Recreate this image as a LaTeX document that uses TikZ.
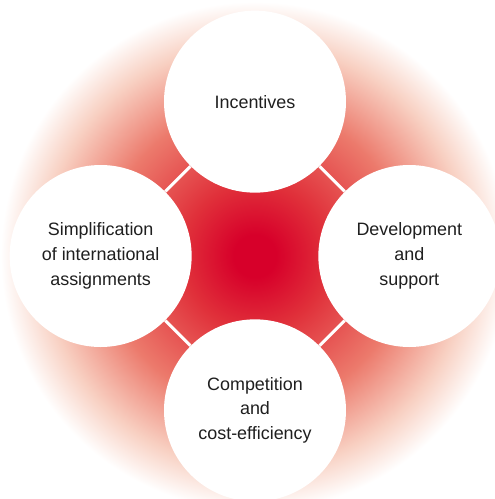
\documentclass[tikz,border=0pt]{standalone}
\usepackage{fontspec}
\setmainfont{Liberation Sans}
\usepackage{xcolor}
\usetikzlibrary{positioning}

\definecolor{glowcore}{HTML}{D7002A}
\definecolor{glowmid}{HTML}{E0303A}
\definecolor{glowfade}{HTML}{EC7A6C}
\definecolor{glowpale}{HTML}{F8D0C2}
\definecolor{labeltext}{HTML}{1F1F1F}

\pgfdeclareradialshading{redglow}{\pgfpoint{0bp}{0bp}}{%
  color(0bp)=(glowcore); color(2bp)=(glowcore); color(6.8bp)=(glowmid);
  color(14.15bp)=(glowfade); color(20.1bp)=(glowpale); color(24bp)=(white);
  color(50bp)=(white)}

\tikzset{
  pillar/.style={circle, fill=white, minimum size=3.64cm, inner sep=0pt,
    align=center, text=labeltext, font=\fontsize{10.2}{14.2}\selectfont},
  link/.style={white, line width=1.7pt}
}

\begin{document}
\begin{tikzpicture}
            \useasboundingbox (-5.1,-4.86) rectangle (4.8,5.12);
            \coordinate (hub) at (0,0);
            \shade[shading=redglow] (hub) circle (5.3cm);

            \node (incent) [pillar, above=1.26cm of hub] {Incentives};
            \node (develop) [pillar, right=1.26cm of hub] {Development\\and\\support};
            \node (compete) [pillar, below=1.26cm of hub] {Competition\\and\\cost-efficiency};
            \node (simplify) [pillar, left=1.26cm of hub] {Simplification\\of international\\assignments};

            \draw[link] (incent) -- (develop);
            \draw[link] (develop) -- (compete);
            \draw[link] (compete) -- (simplify);
            \draw[link] (simplify) -- (incent);
        \end{tikzpicture}
\end{document}
